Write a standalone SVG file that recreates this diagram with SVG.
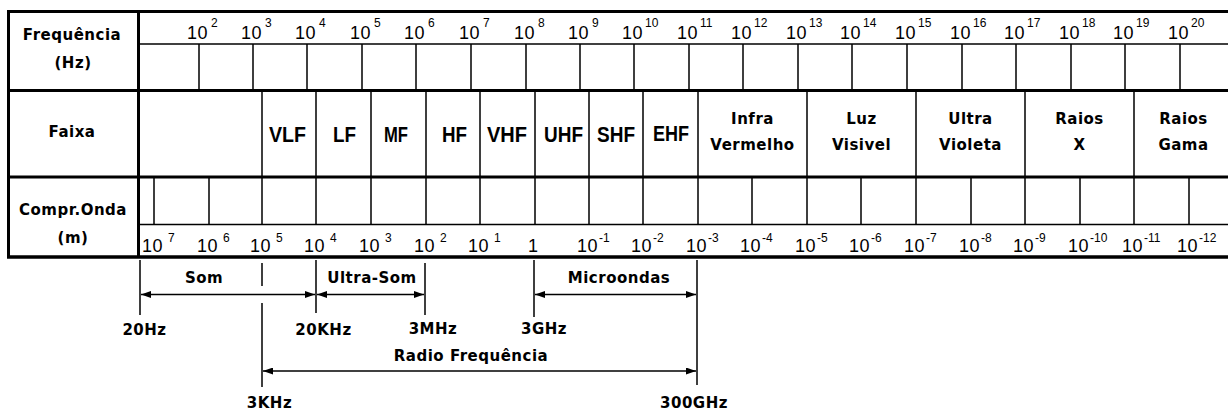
<svg xmlns="http://www.w3.org/2000/svg" width="1228" height="411" viewBox="0 0 1228 411">
<defs>
<style>
.thick{stroke:#000;stroke-width:3;fill:none}
.thin{stroke:#000;stroke-width:1.5;fill:none}
.hdr{font-family:"DejaVu Sans","Liberation Sans",sans-serif;font-weight:bold;font-size:15px;letter-spacing:0.5px;text-anchor:middle;fill:#000}
.band{font-family:"Liberation Sans",Arial,sans-serif;font-weight:bold;font-size:22px;fill:#000}
.num{font-family:"Liberation Sans",Arial,sans-serif;font-size:18px;letter-spacing:0.5px;fill:#000}
.exp{font-size:12px;letter-spacing:0}
.arr{stroke:#000;stroke-width:1.5;fill:none;marker-start:url(#ah);marker-end:url(#ah)}
</style>
<marker id="ah" markerUnits="userSpaceOnUse" viewBox="0 0 10 7" refX="10" refY="3.5" markerWidth="10" markerHeight="7" orient="auto-start-reverse">
<path d="M0,0 L10,3.5 L0,7 z" fill="#000"/>
</marker>
</defs>
<rect width="1228" height="411" fill="#fff"/>

<g id="table-grid">
<line class="thick" x1="7" y1="11.5" x2="1228" y2="11.5"/>
<line class="thick" x1="8.5" y1="10" x2="8.5" y2="258"/>
<line class="thick" x1="138.5" y1="10" x2="138.5" y2="256"/>
<line class="thick" x1="7" y1="90.5" x2="1228" y2="90.5"/>
<line class="thick" x1="7" y1="177" x2="1228" y2="177"/>
<line class="thick" x1="7" y1="257" x2="1228" y2="257" style="stroke-width:3.5"/>
<line class="thin" x1="138" y1="44" x2="1228" y2="44"/>
<line class="thin" x1="138" y1="224.5" x2="1228" y2="224.5"/>
<g id="freq-lines" class="thin">
<path d="M199,44V90 M253,44V90 M307,44V90 M362,44V90 M416,44V90 M471,44V90 M526,44V90 M580,44V90 M634,44V90 M689,44V90 M743,44V90 M798,44V90 M852,44V90 M907,44V90 M962,44V90 M1016,44V90 M1071,44V90 M1125,44V90 M1180,44V90"/>
</g>
<g id="band-lines" class="thin">
<path d="M262,91V177 M316,91V177 M371,91V177 M426,91V177 M480,91V177 M535,91V177 M589,91V177 M643,91V177 M698,91V177 M807,91V177 M916,91V177 M1025,91V177 M1134,91V177"/>
</g>
<g id="wave-lines" class="thin">
<path d="M154,177V224 M209,177V224 M262,177V224 M316,177V224 M371,177V224 M426,177V224 M480,177V224 M535,177V224 M589,177V224 M643,177V224 M698,177V224 M752,177V224 M807,177V224 M861,177V224 M916,177V224 M971,177V224 M1025,177V224 M1080,177V224 M1134,177V224 M1189,177V224"/>
</g>
</g>

<g id="row-headers">
<text class="hdr" x="72" y="40">Frequência</text>
<text class="hdr" x="73" y="68">(Hz)</text>
<text class="hdr" x="72" y="137">Faixa</text>
<text class="hdr" x="73" y="215">Compr.Onda</text>
<text class="hdr" x="73" y="243">(m)</text>
</g>

<g id="freq-scale">
<text class="num" x="187" y="39">10<tspan class="exp" x="211" y="27">2</tspan></text>
<text class="num" x="241" y="39">10<tspan class="exp" x="265" y="27">3</tspan></text>
<text class="num" x="295" y="39">10<tspan class="exp" x="319" y="27">4</tspan></text>
<text class="num" x="350" y="39">10<tspan class="exp" x="374" y="27">5</tspan></text>
<text class="num" x="404" y="39">10<tspan class="exp" x="428" y="27">6</tspan></text>
<text class="num" x="459" y="39">10<tspan class="exp" x="483" y="27">7</tspan></text>
<text class="num" x="514" y="39">10<tspan class="exp" x="538" y="27">8</tspan></text>
<text class="num" x="568" y="39">10<tspan class="exp" x="592" y="27">9</tspan></text>
<text class="num" x="622" y="39">10<tspan class="exp" x="645" y="27">10</tspan></text>
<text class="num" x="677" y="39">10<tspan class="exp" x="700" y="27">11</tspan></text>
<text class="num" x="731" y="39">10<tspan class="exp" x="754" y="27">12</tspan></text>
<text class="num" x="786" y="39">10<tspan class="exp" x="809" y="27">13</tspan></text>
<text class="num" x="840" y="39">10<tspan class="exp" x="863" y="27">14</tspan></text>
<text class="num" x="895" y="39">10<tspan class="exp" x="918" y="27">15</tspan></text>
<text class="num" x="950" y="39">10<tspan class="exp" x="973" y="27">16</tspan></text>
<text class="num" x="1004" y="39">10<tspan class="exp" x="1027" y="27">17</tspan></text>
<text class="num" x="1059" y="39">10<tspan class="exp" x="1082" y="27">18</tspan></text>
<text class="num" x="1113" y="39">10<tspan class="exp" x="1136" y="27">19</tspan></text>
<text class="num" x="1168" y="39">10<tspan class="exp" x="1191" y="27">20</tspan></text>
</g>

<g id="bands">
<text class="band" x="269" y="142" textLength="37" lengthAdjust="spacingAndGlyphs">VLF</text>
<text class="band" x="333" y="142" textLength="23" lengthAdjust="spacingAndGlyphs">LF</text>
<text class="band" x="384" y="142" textLength="24" lengthAdjust="spacingAndGlyphs">MF</text>
<text class="band" x="442" y="142" textLength="25" lengthAdjust="spacingAndGlyphs">HF</text>
<text class="band" x="487" y="142" textLength="40" lengthAdjust="spacingAndGlyphs">VHF</text>
<text class="band" x="544" y="142" textLength="39" lengthAdjust="spacingAndGlyphs">UHF</text>
<text class="band" x="597" y="142" textLength="38" lengthAdjust="spacingAndGlyphs">SHF</text>
<text class="band" x="653" y="141" textLength="36" lengthAdjust="spacingAndGlyphs">EHF</text>
<text class="hdr" x="752.5" y="124">Infra</text>
<text class="hdr" x="752.5" y="150">Vermelho</text>
<text class="hdr" x="861.5" y="124">Luz</text>
<text class="hdr" x="861.5" y="150">Visivel</text>
<text class="hdr" x="970.5" y="124">Ultra</text>
<text class="hdr" x="970.5" y="150">Violeta</text>
<text class="hdr" x="1079.5" y="124">Raios</text>
<text class="hdr" x="1079.5" y="150">X</text>
<text class="hdr" x="1183.5" y="124">Raios</text>
<text class="hdr" x="1183.5" y="150">Gama</text>
</g>

<g id="wave-scale">
<text class="num" x="142" y="252">10<tspan class="exp" x="168" y="242">7</tspan></text>
<text class="num" x="197" y="252">10<tspan class="exp" x="223" y="242">6</tspan></text>
<text class="num" x="250" y="252">10<tspan class="exp" x="276" y="242">5</tspan></text>
<text class="num" x="304" y="252">10<tspan class="exp" x="330" y="242">4</tspan></text>
<text class="num" x="359" y="252">10<tspan class="exp" x="385" y="242">3</tspan></text>
<text class="num" x="414" y="252">10<tspan class="exp" x="440" y="242">2</tspan></text>
<text class="num" x="468" y="252">10<tspan class="exp" x="494" y="242">1</tspan></text>
<text class="num" x="528" y="252">1</text>
<text class="num" x="577" y="252">10<tspan class="exp" x="599" y="242">-1</tspan></text>
<text class="num" x="631" y="252">10<tspan class="exp" x="653" y="242">-2</tspan></text>
<text class="num" x="686" y="252">10<tspan class="exp" x="708" y="242">-3</tspan></text>
<text class="num" x="740" y="252">10<tspan class="exp" x="762" y="242">-4</tspan></text>
<text class="num" x="795" y="252">10<tspan class="exp" x="817" y="242">-5</tspan></text>
<text class="num" x="849" y="252">10<tspan class="exp" x="871" y="242">-6</tspan></text>
<text class="num" x="904" y="252">10<tspan class="exp" x="926" y="242">-7</tspan></text>
<text class="num" x="959" y="252">10<tspan class="exp" x="981" y="242">-8</tspan></text>
<text class="num" x="1013" y="252">10<tspan class="exp" x="1035" y="242">-9</tspan></text>
<text class="num" x="1068" y="252">10<tspan class="exp" x="1090" y="242">-10</tspan></text>
<text class="num" x="1122" y="252">10<tspan class="exp" x="1144" y="242">-11</tspan></text>
<text class="num" x="1177" y="252">10<tspan class="exp" x="1199" y="242">-12</tspan></text>
</g>

<g id="markers" class="thin">
<path d="M140,260V315 M262,263V286 M262,303V387 M316,260V313 M425,263V315 M534,260V317 M697,260V385"/>
</g>

<g id="connectors">
<line class="arr" x1="141" y1="294.5" x2="315" y2="294.5"/>
<line class="arr" x1="317" y1="294.5" x2="424" y2="294.5"/>
<line class="arr" x1="535" y1="294.5" x2="696" y2="294.5"/>
<line class="arr" x1="263" y1="371" x2="696" y2="371"/>
</g>

<g id="node-som"><text class="hdr" x="204" y="283">Som</text></g>
<g id="node-ultrasom"><text class="hdr" x="372" y="283">Ultra-Som</text></g>
<g id="node-microondas"><text class="hdr" x="619" y="283">Microondas</text></g>
<g id="node-radio"><text class="hdr" x="471" y="361">Radio Frequência</text></g>
<g id="limits">
<text class="hdr" x="144.5" y="335">20Hz</text>
<text class="hdr" x="323.5" y="335">20KHz</text>
<text class="hdr" x="433" y="334">3MHz</text>
<text class="hdr" x="544" y="334">3GHz</text>
<text class="hdr" x="269.5" y="408">3KHz</text>
<text class="hdr" x="694" y="408">300GHz</text>
</g>
</svg>
